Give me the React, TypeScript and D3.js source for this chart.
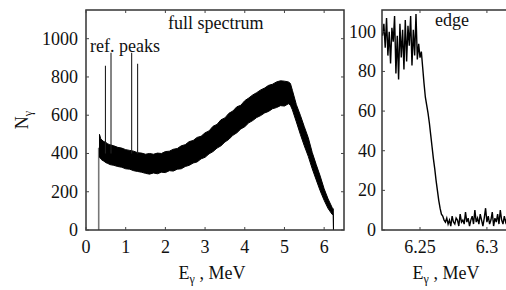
import * as d3 from "d3";

// full spectrum: envelope of the noisy band (MeV, lower / upper count)
const bandE = [0.34, 0.37, 0.4, 0.45, 0.5, 0.55, 0.6, 0.7, 0.8, 0.9, 1.0, 1.1, 1.2, 1.3, 1.4, 1.5, 1.6, 1.7, 1.8, 1.9, 2.0, 2.1, 2.2, 2.3, 2.4, 2.5, 2.6, 2.7, 2.8, 2.9, 3.0, 3.1, 3.2, 3.3, 3.4, 3.5, 3.6, 3.7, 3.8, 3.9, 4.0, 4.1, 4.2, 4.3, 4.4, 4.5, 4.6, 4.7, 4.8, 4.9, 5.0, 5.1, 5.15, 5.2, 5.3, 5.4, 5.5, 5.6, 5.7, 5.8, 5.9, 6.0, 6.1, 6.2, 6.23, 6.235];
const bandLo = [380, 372, 366, 360, 352, 348, 342, 338, 332, 328, 320, 318, 310, 306, 302, 296, 292, 298, 294, 302, 300, 310, 308, 318, 320, 332, 338, 350, 356, 372, 380, 398, 410, 428, 440, 460, 474, 495, 508, 528, 540, 560, 572, 588, 598, 612, 620, 634, 640, 650, 648, 660, 652, 628, 565, 500, 440, 385, 320, 262, 205, 155, 112, 82, 80, 0];
const bandHi = [500, 478, 470, 462, 458, 450, 446, 440, 432, 428, 420, 416, 412, 404, 402, 396, 400, 396, 402, 400, 410, 412, 422, 426, 440, 446, 462, 468, 484, 490, 508, 518, 542, 552, 576, 586, 610, 622, 644, 652, 676, 690, 706, 718, 732, 742, 756, 762, 774, 780, 778, 774, 766, 730, 655, 600, 540, 482, 405, 342, 282, 215, 162, 118, 110, 0];

const peakE = [0.49, 0.63, 1.15, 1.3];
const peakN = [858, 926, 926, 869];

// edge zoom
const edgeE = [
  6.222, 6.223, 6.224, 6.225, 6.226, 6.227, 6.228, 6.229, 6.23, 6.231, 6.232, 6.233, 6.234, 6.235, 6.236, 6.237, 6.238, 6.239,
  6.24, 6.241, 6.242, 6.243, 6.244, 6.245, 6.246, 6.247, 6.248, 6.249, 6.25, 6.251, 6.252, 6.253, 6.254, 6.255, 6.256, 6.257,
  6.258, 6.259, 6.26, 6.261, 6.262, 6.263, 6.264, 6.265, 6.266, 6.267, 6.268, 6.269, 6.27, 6.271, 6.272, 6.273, 6.274, 6.275,
  6.276, 6.277, 6.278, 6.279, 6.28, 6.281, 6.282, 6.283, 6.284, 6.285, 6.286, 6.287, 6.288, 6.289, 6.29, 6.291, 6.292, 6.293,
  6.294, 6.295, 6.296, 6.297, 6.298, 6.299, 6.3, 6.301, 6.302, 6.303, 6.304, 6.305, 6.306, 6.307, 6.308, 6.309, 6.31, 6.311,
  6.312, 6.313, 6.314, 6.315,
];
const edgeN = [
  98, 104, 92, 107, 88, 100, 84, 102, 95, 108, 79, 98, 76, 104, 87, 101, 81, 106,
  85, 103, 93, 108, 83, 101, 88, 109, 86, 94, 87, 90, 82, 74, 67, 63, 59, 54,
  48, 42, 36, 31, 25, 20, 15, 11, 8, 7, 5, 4, 6, 3, 5, 2, 7, 4,
  3, 6, 5, 2, 8, 4, 5, 3, 9, 4, 6, 2, 5, 7, 3, 10, 4, 6,
  3, 8, 5, 2, 6, 11, 4, 7, 3, 5, 9, 2, 6, 4, 8, 3, 10, 5,
  3, 7, 4, 6,
];

const fullTicksX = [0, 1, 2, 3, 4, 5, 6];
const fullTicksY = [0, 200, 400, 600, 800, 1000];
const edgeTicksX = [6.25, 6.3];
const edgeTicksY = [0, 20, 40, 60, 80, 100];

const FONT = "'Liberation Serif', serif";
const TOP = 10, BOTTOM = 230;

const x1 = d3.scaleLinear().domain([0, 6.5]).range([86, 344]);
const y1 = d3.scaleLinear().domain([0, 1150]).range([BOTTOM, TOP]);
const x2 = d3.scaleLinear().domain([6.2216, 6.3165]).range([382, 509]);
const y2 = d3.scaleLinear().domain([0, 111]).range([BOTTOM, TOP]);

const idx = (n: number) => d3.range(n);

function Frame({ x, y, tx, ty, right }: {
  x: d3.ScaleLinear<number, number>; y: d3.ScaleLinear<number, number>; tx: number[]; ty: number[]; right: number;
}) {
  const left = x.range()[0];
  return (
    <g>
      <rect x={left} y={TOP} width={right - left} height={BOTTOM - TOP} fill="none" stroke="#333" strokeWidth={1.5} />
      {tx.map(t => (
        <g key={"x" + t} stroke="#444">
          <line x1={x(t)} x2={x(t)} y1={BOTTOM} y2={BOTTOM - 3} />
          <line x1={x(t)} x2={x(t)} y1={TOP} y2={TOP + 3} />
        </g>
      ))}
      {ty.map(t => (
        <g key={"y" + t} stroke="#444">
          <line x1={left} x2={left + 3} y1={y(t)} y2={y(t)} />
          <line x1={right} x2={right - 3} y1={y(t)} y2={y(t)} />
        </g>
      ))}
    </g>
  );
}

export default function App() {
  const band = d3.area<number>()
    .x(i => x1(bandE[i]))
    .y0(i => y1(bandLo[i]))
    .y1(i => y1(bandHi[i]))(idx(bandE.length)) || "";
  const edge = d3.line<number>()
    .x(i => x2(edgeE[i]))
    .y(i => y2(edgeN[i]))(idx(edgeE.length)) || "";

  const txt = { fontFamily: FONT, fontSize: 18, fill: "#111" } as const;

  return (
    <svg width={506} height={290} style={{ position: "absolute", left: 0, top: 0, background: "#fff" }}>
      <defs>
        <clipPath id="clipFull"><rect x={86} y={TOP} width={258} height={BOTTOM - TOP} /></clipPath>
        <clipPath id="clipEdge"><rect x={382} y={TOP} width={127} height={BOTTOM - TOP} /></clipPath>
      </defs>

      <g clipPath="url(#clipFull)">
        <line x1={x1(0.32)} x2={x1(0.32)} y1={y1(0)} y2={y1(430)} stroke="#777" strokeWidth={1.6} />
        <path d={band} fill="#000" stroke="#000" strokeWidth={1} />
        {peakE.map((e, i) => (
          <line key={e} x1={x1(e)} x2={x1(e)} y1={y1(400)} y2={y1(peakN[i])} stroke="#222" strokeWidth={1.1} />
        ))}
      </g>

      <g clipPath="url(#clipEdge)">
        <path d={edge} fill="none" stroke="#000" strokeWidth={1.4} />
      </g>

      <Frame x={x1} y={y1} tx={fullTicksX} ty={fullTicksY} right={344} />
      <Frame x={x2} y={y2} tx={edgeTicksX} ty={edgeTicksY} right={509} />

      <g style={txt}>
        {fullTicksX.map(t => <text key={"fx" + t} x={x1(t)} y={253} textAnchor="middle">{t}</text>)}
        {fullTicksY.map(t => <text key={"fy" + t} x={78} y={y1(t) + 6} textAnchor="end">{t}</text>)}
        {edgeTicksX.map(t => <text key={"ex" + t} x={x2(t)} y={253} textAnchor="middle">{t}</text>)}
        {edgeTicksY.map(t => <text key={"ey" + t} x={376} y={y2(t) + 6} textAnchor="end">{t}</text>)}

        <text x={168} y={29}>full spectrum</text>
        <text x={90} y={52}>ref. peaks</text>
        <text x={435} y={26}>edge</text>

        {[212, 446].map(cx => (
          <text key={cx} x={cx} y={279} textAnchor="middle">
            E<tspan fontSize={12} dy={4}>γ</tspan><tspan dy={-4}> , MeV</tspan>
          </text>
        ))}
      </g>

      <g transform="translate(28 120)">
        <g transform="rotate(-90)">
          <text x={0} y={0} textAnchor="middle" fontFamily={FONT} fontSize={18} fill="#111">
            N<tspan fontSize={12} dy={4}>γ</tspan>
          </text>
        </g>
      </g>
    </svg>
  );
}
